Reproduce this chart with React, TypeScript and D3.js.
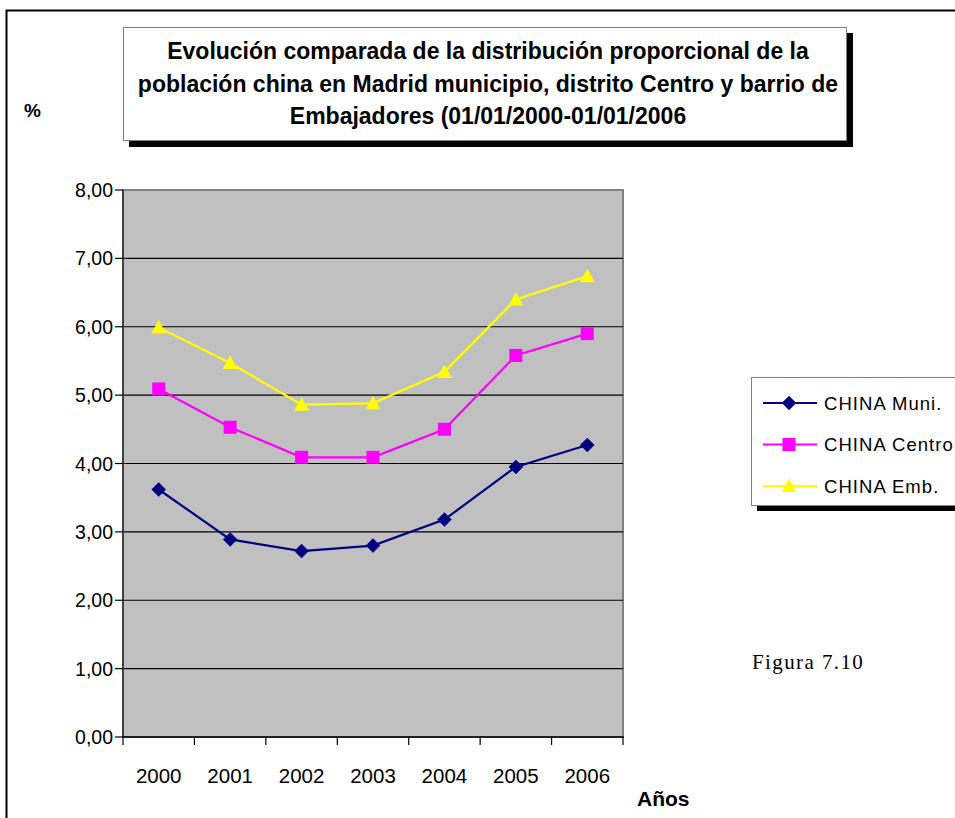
import React from "react";
import * as d3 from "d3";

const years = ["2000", "2001", "2002", "2003", "2004", "2005", "2006"];
const muni = [3.62, 2.89, 2.72, 2.8, 3.18, 3.95, 4.27];
const centro = [5.09, 4.53, 4.09, 4.09, 4.5, 5.58, 5.9];
const emb = [5.99, 5.47, 4.86, 4.88, 5.34, 6.4, 6.74];
const seriesNames = ["CHINA Muni.", "CHINA Centro", "CHINA Emb."];
const seriesColors = ["#000080", "#FF00FF", "#FFFF00"];
const seriesShapes = ["diamond", "square", "triangle"];
const yTicks = [0, 1, 2, 3, 4, 5, 6, 7, 8];
const titleLines = [
  "Evolución comparada de la distribución proporcional de la",
  "población china en Madrid municipio, distrito Centro y barrio de",
  "Embajadores (01/01/2000-01/01/2006",
];

const W = 955;
const H = 818;
const plot = { left: 123, right: 623, top: 190, bottom: 737 };
const SANS = "'Liberation Sans', Arial, sans-serif";

function Marker({ shape, cx, cy, color }: { shape: string; cx: number; cy: number; color: string }) {
  if (shape === "diamond") {
    const r = 7;
    return (
      <path
        d={`M${cx},${cy - r}L${cx + r},${cy}L${cx},${cy + r}L${cx - r},${cy}Z`}
        fill={color}
        stroke={color}
        strokeWidth={0.5}
      />
    );
  }
  if (shape === "square") {
    const s = 6.5;
    return <rect x={cx - s} y={cy - s} width={2 * s} height={2 * s} fill={color} />;
  }
  const r = 7.5;
  return (
    <path
      d={`M${cx},${cy - r}L${cx + r},${cy + r * 0.8}L${cx - r},${cy + r * 0.8}Z`}
      fill={color}
    />
  );
}

export default function App() {
  const x = d3.scaleBand<string>().domain(years).range([plot.left, plot.right]).padding(0);
  const y = d3.scaleLinear().domain([0, 8]).range([plot.bottom, plot.top]);
  const cx = (yr: string) => (x(yr) as number) + x.bandwidth() / 2;

  const allSeries = [muni, centro, emb];
  const line = d3
    .line<number>()
    .x((_, i) => cx(years[i]))
    .y((v) => y(v));

  const boundaries = years.map((yr) => x(yr) as number).concat([plot.right]);

  return (
    <svg
      width={W}
      height={H}
      viewBox={`0 0 ${W} ${H}`}
      style={{ position: "absolute", left: 0, top: 0, background: "#fff" }}
    >
      <rect x={0} y={0} width={W} height={H} fill="#fff" />
      {/* outer chart frame */}
      <path d={`M6.5,${H + 5}V10.5H${W + 5}`} fill="none" stroke="#000" strokeWidth={2} />

      {/* title box with drop shadow */}
      <rect x={129} y={33} width={724} height={114} fill="#000" />
      <rect x={123.5} y={27.5} width={723} height={113} fill="#fff" stroke="#808080" strokeWidth={1} />
      {titleLines.map((t, i) => (
        <text
          key={i}
          x={488}
          y={59 + i * 32.5}
          textAnchor="middle"
          fontFamily={SANS}
          fontWeight="bold"
          fontSize={23}
          fill="#000"
        >
          {t}
        </text>
      ))}

      {/* y axis unit */}
      <text x={24} y={117} fontFamily={SANS} fontWeight="bold" fontSize={19} fill="#000">
        %
      </text>

      {/* plot area */}
      <rect
        x={plot.left}
        y={plot.top}
        width={plot.right - plot.left}
        height={plot.bottom - plot.top}
        fill="#C0C0C0"
        stroke="#808080"
        strokeWidth={2}
      />
      {yTicks.slice(1, -1).map((t) => (
        <line key={t} x1={plot.left} x2={plot.right} y1={y(t)} y2={y(t)} stroke="#000" strokeWidth={1.2} />
      ))}

      {/* axes */}
      <line x1={plot.left} x2={plot.left} y1={plot.top} y2={plot.bottom} stroke="#404040" strokeWidth={2} />
      <line x1={plot.left - 1} x2={plot.right + 1} y1={plot.bottom} y2={plot.bottom} stroke="#000" strokeWidth={1.5} />
      {yTicks.map((t) => (
        <g key={t}>
          <line x1={plot.left - 8} x2={plot.left} y1={y(t)} y2={y(t)} stroke="#000" strokeWidth={1.2} />
          <text
            x={113}
            y={y(t) + 7}
            textAnchor="end"
            fontFamily={SANS}
            fontSize={19.5}
            fill="#000"
          >
            {d3.format(".2f")(t).replace(".", ",")}
          </text>
        </g>
      ))}
      {boundaries.map((b, i) => (
        <line key={i} x1={b} x2={b} y1={plot.bottom} y2={plot.bottom + 8} stroke="#000" strokeWidth={1.2} />
      ))}
      {years.map((yr) => (
        <text
          key={yr}
          x={cx(yr)}
          y={783}
          textAnchor="middle"
          fontFamily={SANS}
          fontSize={20.5}
          fill="#000"
        >
          {yr}
        </text>
      ))}
      <text x={637} y={806} fontFamily={SANS} fontWeight="bold" fontSize={21} fill="#000">
        Años
      </text>

      {/* series */}
      {allSeries.map((s, si) => (
        <g key={si}>
          <path d={line(s) as string} fill="none" stroke={seriesColors[si]} strokeWidth={2.2} />
          {s.map((v, i) => (
            <Marker key={i} shape={seriesShapes[si]} cx={cx(years[i])} cy={y(v)} color={seriesColors[si]} />
          ))}
        </g>
      ))}

      {/* legend with drop shadow */}
      <rect x={757} y={383} width={W} height={128} fill="#000" />
      <rect x={751.5} y={377.5} width={W} height={128} fill="#fff" stroke="#808080" strokeWidth={1} />
      {seriesNames.map((n, i) => {
        const ly = 403 + i * 41.5;
        return (
          <g key={n}>
            <line x1={763} x2={817} y1={ly} y2={ly} stroke={seriesColors[i]} strokeWidth={2} />
            <Marker shape={seriesShapes[i]} cx={789} cy={ly} color={seriesColors[i]} />
            <text
              x={824}
              y={ly + 6.5}
              fontFamily={SANS}
              fontSize={18.5}
              letterSpacing={1.05}
              fill="#000"
            >
              {n}
            </text>
          </g>
        );
      })}

      <text
        x={752}
        y={669}
        fontFamily="'Liberation Serif', 'Times New Roman', serif"
        fontSize={21}
        letterSpacing={1.4}
        fill="#000"
      >
        Figura 7.10
      </text>
    </svg>
  );
}
